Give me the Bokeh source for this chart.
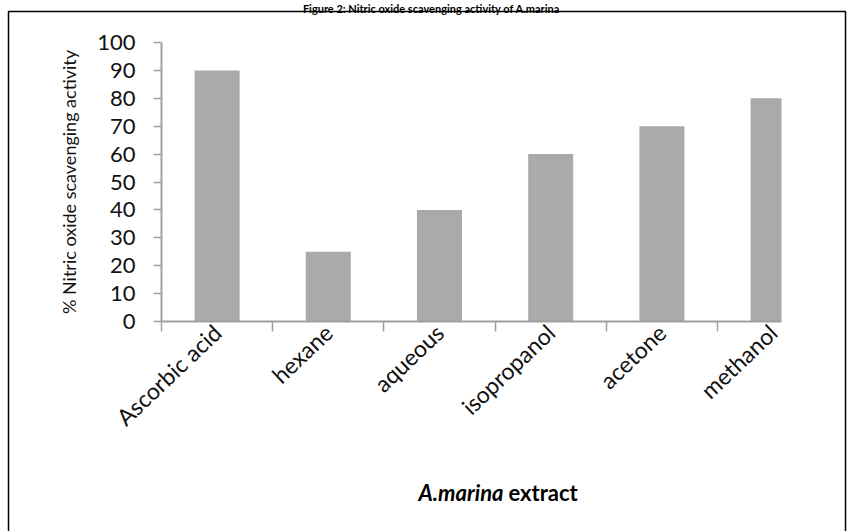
from bokeh.plotting import figure
from bokeh.models import Range1d, FixedTicker, Label
from bokeh.embed import file_html
from bokeh.resources import INLINE

# ---- data ----
categories = ["Ascorbic acid", "hexane", "aqueous", "isopropanol", "acetone", "methanol"]
activity = [90, 25, 40, 60, 70, 80]
y_ticks = [0, 10, 20, 30, 40, 50, 60, 70, 80, 90, 100]
title_text = "Figure 2: Nitric oxide scavenging activity of A.marina"
y_title = "% Nitric oxide scavenging activity"
x_title_species = "A.marina"
x_title_rest = "extract"

# ---- layout (canvas pixels) ----
W, H = 848, 531
PX_LEFT = 161.0      # x of first category boundary (y axis)
CAT_PX = 111.2       # width of one category
PX_ZERO = 321.0      # y of value 0
PX_PER_UNIT = 2.79   # pixels per % unit
PX_CROP = 781.0      # the chart area is cut off here in the reference

FONT = "Lato"
AXIS_GRAY = "#a0a0a0"
TEXT = "#111111"


def dx(px):
    return (px - PX_LEFT) / CAT_PX


def dy(py):
    return (PX_ZERO - py) / PX_PER_UNIT


x_end = dx(PX_CROP)
x_pos = [i + 0.5 for i in range(len(categories))]
boundaries = [b for b in range(len(categories) + 1) if b <= x_end]
half_w = 0.2025
bar_left = [x - half_w for x in x_pos]
bar_right = [min(x + half_w, x_end) for x in x_pos]

p = figure(width=W, height=H, output_backend="svg", toolbar_location=None,
           title=None,
           x_range=Range1d(dx(0), dx(W)), y_range=Range1d(dy(H), dy(0)),
           min_border=0)
p.outline_line_color = None
p.xgrid.visible = False
p.ygrid.visible = False
p.background_fill_color = "white"
p.border_fill_color = "white"

# outer frame box (open at the bottom, like the cropped reference)
p.line(x=[dx(8), dx(8), dx(845), dx(845)], y=[dy(H + 40), dy(11), dy(11), dy(H + 40)],
       line_color="black", line_width=1.5)

p.quad(left=bar_left, right=bar_right, top=activity, bottom=0,
       fill_color="#aaaaaa", line_color=None)

# x axis
xa = p.xaxis[0]
xa.fixed_location = 0
xa.bounds = (0, x_end)
xa.ticker = FixedTicker(ticks=x_pos, minor_ticks=boundaries)
xa.major_label_overrides = {x: c for x, c in zip(x_pos, categories)}
xa.major_tick_line_color = None
xa.major_tick_in = 0
xa.major_tick_out = 0
xa.minor_tick_in = 0
xa.minor_tick_out = 10
xa.minor_tick_line_color = AXIS_GRAY
xa.minor_tick_line_width = 1.5
xa.axis_line_color = AXIS_GRAY
xa.axis_line_width = 2
xa.major_label_orientation = 0.76
xa.major_label_standoff = -3
xa.major_label_text_font = FONT
xa.major_label_text_font_size = "23px"
xa.major_label_text_color = TEXT

# y axis
ya = p.yaxis[0]
ya.fixed_location = 0
ya.bounds = (0, 100)
ya.ticker = FixedTicker(ticks=y_ticks, minor_ticks=[])
ya.major_tick_in = 0
ya.major_tick_out = 8
ya.major_tick_line_color = AXIS_GRAY
ya.major_tick_line_width = 1.5
ya.axis_line_color = AXIS_GRAY
ya.axis_line_width = 2
ya.major_label_standoff = 18
ya.major_label_text_font = FONT
ya.major_label_text_font_size = "22px"
ya.major_label_text_color = TEXT
ya.axis_label = y_title
ya.axis_label_text_font = FONT
ya.axis_label_text_font_size = "18px"
ya.axis_label_text_font_style = "normal"
ya.axis_label_text_color = TEXT
ya.axis_label_standoff = 14

# title
p.add_layout(Label(x=dx(431), y=dy(8), text=title_text,
                   text_align="center", text_baseline="alphabetic",
                   text_font=FONT, text_font_size="11px", text_font_style="bold",
                   text_color="black"))

# x axis title
p.add_layout(Label(x=dx(503), y=dy(492), text=x_title_species,
                   text_align="right", text_baseline="alphabetic",
                   text_font=FONT, text_font_size="22px", text_font_style="bold italic",
                   text_color="black"))
p.add_layout(Label(x=dx(508), y=dy(492), text=x_title_rest,
                   text_align="left", text_baseline="alphabetic",
                   text_font=FONT, text_font_size="22px", text_font_style="bold",
                   text_color="black"))

open("out.html", "w").write(file_html(p, INLINE))
